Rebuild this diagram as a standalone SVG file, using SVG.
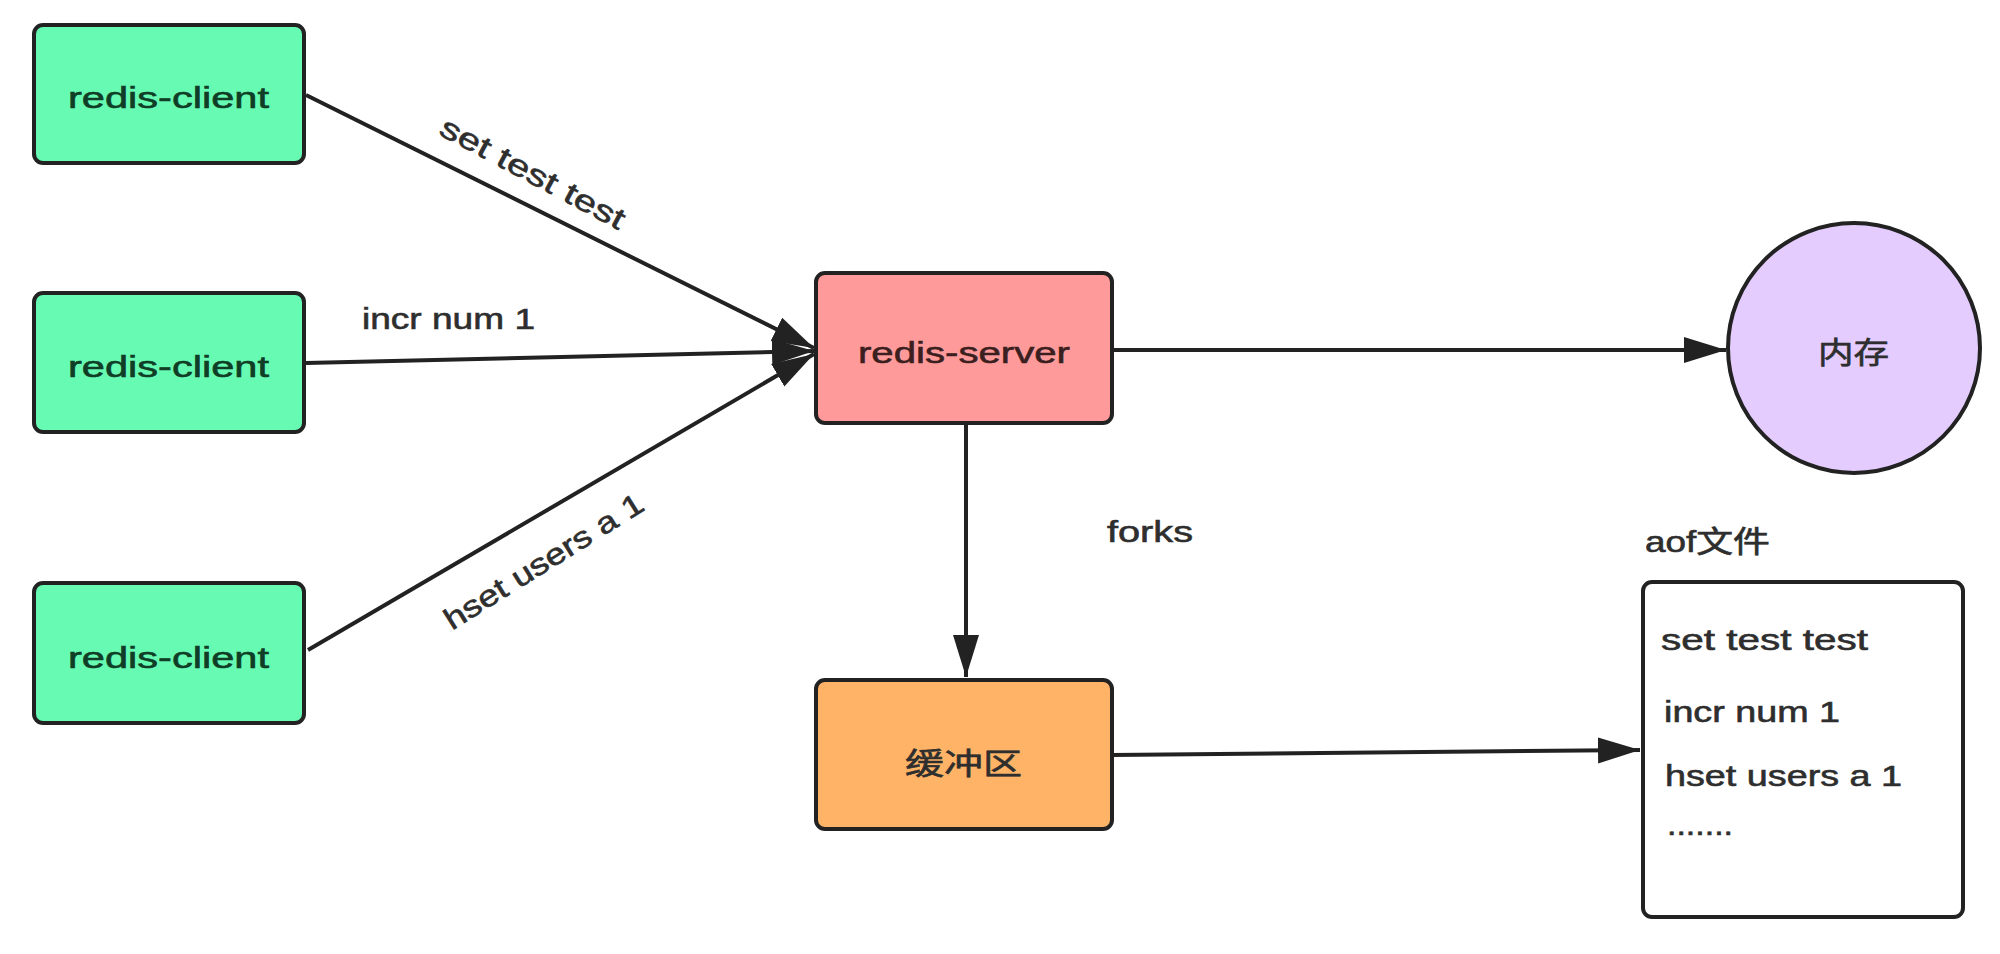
<svg xmlns="http://www.w3.org/2000/svg" width="2000" height="954" viewBox="0 0 2000 954">
  <style>
    text { font-family: "Liberation Sans", "Noto Sans CJK SC", sans-serif; font-size: 30px; fill: #2e2e2e; stroke: #2e2e2e; stroke-width: 0.6; }
    .box { stroke: #222222; stroke-width: 4; }
    .client rect { fill: #66FAB3; }
    .client text { fill: #0f3d25; stroke: #0f3d25; }
    .server rect { fill: #FF9A9A; }
    .server text { fill: #3b1f1f; stroke: #3b1f1f; }
    .buffer rect { fill: #FFB366; }
    .mem ellipse { fill: #E5CCFF; }
    .aof rect { fill: #ffffff; }
    .conn line { stroke: #222222; stroke-width: 4; fill: none; marker-end: url(#arrow); }
  </style>
  <defs>
    <marker id="arrow" markerUnits="userSpaceOnUse" markerWidth="44" markerHeight="30" viewBox="0 -15 44 30" refX="42" refY="0" orient="auto">
      <path d="M0,-13 L42,0 L0,13 Z" fill="#222222"/>
    </marker>
  </defs>
  <rect width="2000" height="954" fill="#ffffff"/>

  <g id="connectors" class="conn">
    <line x1="306" y1="95" x2="814" y2="348"/>
    <line x1="306" y1="363" x2="814" y2="351"/>
    <line x1="308" y1="650" x2="814" y2="354"/>
    <line x1="1112" y1="350" x2="1726" y2="350"/>
    <line x1="966" y1="423" x2="966" y2="677"/>
    <line x1="1112" y1="755" x2="1640" y2="750"/>
  </g>

  <g id="labels">
    <text x="528" y="182" text-anchor="middle" textLength="205" lengthAdjust="spacingAndGlyphs" transform="rotate(28 528 182)">set test test</text>
    <text x="362" y="329" textLength="173" lengthAdjust="spacingAndGlyphs">incr num 1</text>
    <text x="549" y="570" text-anchor="middle" textLength="229" lengthAdjust="spacingAndGlyphs" transform="rotate(-32 549 570)">hset users a 1</text>
    <text x="1107" y="542" textLength="86" lengthAdjust="spacingAndGlyphs">forks</text>
    <text x="1645" y="552" textLength="125" lengthAdjust="spacingAndGlyphs">aof文件</text>
  </g>

  <g id="client1" class="client">
    <rect class="box" x="34" y="25" width="270" height="138" rx="9"/>
    <text x="68" y="108" textLength="201" lengthAdjust="spacingAndGlyphs">redis-client</text>
  </g>
  <g id="client2" class="client">
    <rect class="box" x="34" y="293" width="270" height="139" rx="9"/>
    <text x="68" y="377" textLength="201" lengthAdjust="spacingAndGlyphs">redis-client</text>
  </g>
  <g id="client3" class="client">
    <rect class="box" x="34" y="583" width="270" height="140" rx="9"/>
    <text x="68" y="668" textLength="201" lengthAdjust="spacingAndGlyphs">redis-client</text>
  </g>

  <g id="server" class="server">
    <rect class="box" x="816" y="273" width="296" height="150" rx="9"/>
    <text x="858" y="363" textLength="212" lengthAdjust="spacingAndGlyphs">redis-server</text>
  </g>

  <g id="memory" class="mem">
    <ellipse class="box" cx="1854" cy="348" rx="126" ry="125"/>
    <text x="1818" y="363" textLength="71" lengthAdjust="spacingAndGlyphs">内存</text>
  </g>

  <g id="buffer" class="buffer">
    <rect class="box" x="816" y="680" width="296" height="149" rx="9"/>
    <text x="905" y="774" textLength="117" lengthAdjust="spacingAndGlyphs">缓冲区</text>
  </g>

  <g id="aof" class="aof">
    <rect class="box" x="1643" y="582" width="320" height="335" rx="9"/>
    <text x="1661" y="650" textLength="207" lengthAdjust="spacingAndGlyphs">set test test</text>
    <text x="1664" y="722" textLength="176" lengthAdjust="spacingAndGlyphs">incr num 1</text>
    <text x="1665" y="786" textLength="237" lengthAdjust="spacingAndGlyphs">hset users a 1</text>
    <text x="1667" y="835" textLength="66" lengthAdjust="spacingAndGlyphs">.......</text>
  </g>
</svg>
